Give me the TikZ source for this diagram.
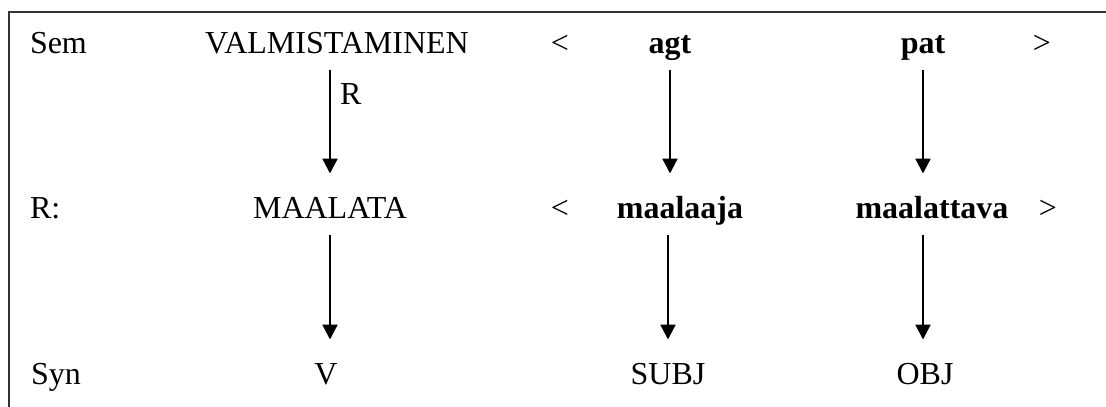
\documentclass[tikz,border=0pt]{standalone}
\usepackage{fontspec}
\setmainfont{Liberation Serif}
\usetikzlibrary{arrows.meta}
\begin{document}
\begin{tikzpicture}[x=1pt,y=-1pt,
  lab/.style={font=\fontsize{32}{38}\selectfont, inner sep=0pt, outer sep=0pt, text height=21pt, text depth=0pt},
  bl/.style={lab, font=\fontsize{32}{38}\selectfont\bfseries},
  arr/.style={line width=2.4pt, -{Triangle[width=15pt,length=15pt]}, shorten <=16pt, shorten >=24pt},
  frame/.style={line width=1.6pt, black!80}]
\useasboundingbox (0,0) rectangle (1106,407);
\draw[frame] (9,407) -- (9,12) -- (1106,12);
% row 1
\node[lab, anchor=west] (sem) at (30,43) {Sem};
\node[lab] (valm) at (337,43) {VALMISTAMINEN};
\node[lab] (lt1) at (560,43) {<};
\node[bl] (agt) at (670,43) {agt};
\node[bl] (pat) at (923,43) {pat};
\node[lab] (gt1) at (1042,43) {>};
% row 2
\node[lab, anchor=west] (rr) at (30,208) {R:};
\node[lab] (maal) at (330,208) {MAALATA};
\node[lab] (lt2) at (560,208) {<};
\node[bl] (mja) at (680,208) {maalaaja};
\node[bl] (mtv) at (932,208) {maalattava};
\node[lab] (gt2) at (1048,208) {>};
% row 3
\node[lab, anchor=west] (syn) at (31,374) {Syn};
\node[lab] (v) at (326,374) {V};
\node[lab] (subj) at (668,374) {SUBJ};
\node[lab] (obj) at (925,374) {OBJ};
% arrows
\draw[arr] (valm.south -| maal) -- node[lab, pos=0.28, right=10pt] (rlab) {R} (maal.north);
\draw[arr] (agt.south) -- (agt.south |- mja.north);
\draw[arr] (pat.south) -- (pat.south |- mtv.north);
\draw[arr] (maal.south) -- (maal.south |- v.north);
\draw[arr] (mja.south -| subj) -- (subj.north);
\draw[arr] (mtv.south -| pat) -- (pat |- obj.north);
\end{tikzpicture}
\end{document}
